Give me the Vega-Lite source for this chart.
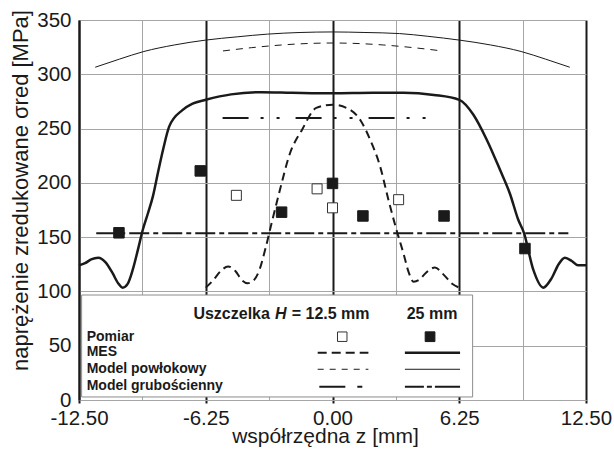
{
  "$schema": "https://vega.github.io/schema/vega-lite/v6.json",
  "width": 507,
  "height": 380,
  "autosize": {"type": "none"},
  "padding": {"left": 79, "top": 20, "right": 28, "bottom": 53},
  "background": "white",
  "config": {
    "font": "Liberation Sans",
    "view": {"stroke": null},
    "axis": {"labelFont": "Liberation Sans", "titleFont": "Liberation Sans", "labelColor": "#1a1a1a", "titleColor": "#1a1a1a", "titleFontWeight": "normal"}
  },
  "datasets": {
    "mes25": [
      {"z": -12.5, "v": 124}, {"z": -12.2, "v": 126}, {"z": -11.9, "v": 129.5}, {"z": -11.55, "v": 131}, {"z": -11.2, "v": 127},
      {"z": -10.85, "v": 117}, {"z": -10.55, "v": 107}, {"z": -10.35, "v": 103.5}, {"z": -10.1, "v": 107}, {"z": -9.85, "v": 120},
      {"z": -9.6, "v": 138}, {"z": -9.35, "v": 157}, {"z": -9.1, "v": 172}, {"z": -8.85, "v": 188}, {"z": -8.6, "v": 210},
      {"z": -8.35, "v": 231}, {"z": -8.05, "v": 252}, {"z": -7.4, "v": 267}, {"z": -6.9, "v": 273}, {"z": -6.25, "v": 276.5},
      {"z": -5.0, "v": 281.5}, {"z": -3.5, "v": 283.5}, {"z": -2.0, "v": 283}, {"z": 0, "v": 282.5}, {"z": 2.0, "v": 283},
      {"z": 3.5, "v": 283}, {"z": 5.0, "v": 281}, {"z": 6.25, "v": 276.5}, {"z": 6.94, "v": 263}, {"z": 7.6, "v": 240},
      {"z": 8.26, "v": 212}, {"z": 8.75, "v": 190}, {"z": 9.16, "v": 166}, {"z": 9.44, "v": 154}, {"z": 9.9, "v": 120},
      {"z": 10.39, "v": 103.5}, {"z": 10.8, "v": 112}, {"z": 11.15, "v": 125}, {"z": 11.46, "v": 131}, {"z": 11.8, "v": 128},
      {"z": 12.1, "v": 124}, {"z": 12.5, "v": 124}
    ],
    "mes125": [
      {"z": -6.25, "v": 103.5}, {"z": -5.9, "v": 110}, {"z": -5.5, "v": 119}, {"z": -5.15, "v": 123}, {"z": -4.8, "v": 119},
      {"z": -4.45, "v": 110}, {"z": -4.2, "v": 107.5}, {"z": -3.9, "v": 110}, {"z": -3.6, "v": 120}, {"z": -3.3, "v": 140},
      {"z": -3.0, "v": 163}, {"z": -2.6, "v": 193}, {"z": -2.1, "v": 227}, {"z": -1.5, "v": 249}, {"z": -0.8, "v": 269},
      {"z": 0, "v": 272}, {"z": 0.8, "v": 268}, {"z": 1.4, "v": 257}, {"z": 1.85, "v": 240}, {"z": 2.35, "v": 215},
      {"z": 2.75, "v": 185}, {"z": 3.15, "v": 157}, {"z": 3.5, "v": 135}, {"z": 3.75, "v": 118}, {"z": 4.0, "v": 109},
      {"z": 4.3, "v": 111}, {"z": 4.6, "v": 117}, {"z": 5.05, "v": 122}, {"z": 5.5, "v": 115}, {"z": 5.9, "v": 107},
      {"z": 6.25, "v": 103.5}
    ],
    "pow25": [
      {"z": -11.7, "v": 306.5}, {"z": -10.5, "v": 314}, {"z": -9.3, "v": 321}, {"z": -7.8, "v": 327}, {"z": -6.25, "v": 331.5},
      {"z": -4.7, "v": 334.5}, {"z": -3.2, "v": 337}, {"z": -1.6, "v": 338.5}, {"z": 0, "v": 339}, {"z": 1.6, "v": 338.5},
      {"z": 3.3, "v": 337.5}, {"z": 4.7, "v": 335}, {"z": 6.25, "v": 331.5}, {"z": 7.8, "v": 327}, {"z": 9.3, "v": 321},
      {"z": 10.5, "v": 314}, {"z": 11.7, "v": 306.5}
    ],
    "pow125": [
      {"z": -5.4, "v": 321.5}, {"z": -4, "v": 324.5}, {"z": -2.5, "v": 327}, {"z": -1, "v": 328.5}, {"z": 0, "v": 328.8},
      {"z": 1, "v": 328.5}, {"z": 2.5, "v": 327}, {"z": 4, "v": 324.5}, {"z": 5.4, "v": 321.5}
    ],
    "grub25": [{"z": -11.65, "v": 153.7}, {"z": 11.63, "v": 153.7}],
    "grub125": [{"z": -5.42, "v": 259.7}, {"z": 4.81, "v": 259.7}],
    "pomiar25": [
      {"z": -10.53, "v": 154}, {"z": -6.52, "v": 211}, {"z": -2.51, "v": 173}, {"z": 0, "v": 199.5},
      {"z": 1.5, "v": 169.5}, {"z": 5.5, "v": 169.5}, {"z": 9.49, "v": 139.5}
    ],
    "pomiar125": [
      {"z": -4.74, "v": 188.5}, {"z": -0.76, "v": 194.5}, {"z": 0, "v": 177}, {"z": 3.26, "v": 184.5}
    ]
  },
  "data": {"values": [{}]},
  "encoding": {
    "x": {
      "type": "quantitative",
      "scale": {"domain": [-12.5, 12.5], "nice": false, "zero": false},
      "axis": {
        "title": "współrzędna z [mm]",
        "titleFontSize": 21,
        "titleX": 246,
        "titleY": 42,
        "titleBaseline": "alphabetic",
        "values": [-12.5, -9.375, -6.25, -3.125, 0, 3.125, 6.25, 9.375, 12.5],
        "labelExpr": "datum.value == -12.5 ? '-12.50' : datum.value == -6.25 ? '-6.25' : datum.value == 0 ? '0.00' : datum.value == 6.25 ? '6.25' : datum.value == 12.5 ? '12.50' : ''",
        "labelFontSize": 20.5,
        "labelPadding": 5,
        "labelFlush": false,
        "labelOverlap": false,
        "grid": true,
        "gridColor": {"condition": {"test": "abs(datum.value % 6.25) < 0.001", "value": "#1a1a1a"}, "value": "#a6a6a6"},
        "gridWidth": {"condition": {"test": "abs(datum.value % 6.25) < 0.001", "value": 2}, "value": 1},
        "ticks": true,
        "tickSize": 3,
        "tickWidth": 2,
        "tickColor": {"condition": {"test": "abs(datum.value % 6.25) < 0.001", "value": "#1a1a1a"}, "value": "transparent"},
        "domainColor": "#a6a6a6",
        "domainWidth": 1
      }
    },
    "y": {
      "type": "quantitative",
      "scale": {"domain": [0, 350], "nice": false},
      "axis": {
        "title": "naprężenie zredukowane σred [MPa]",
        "titleFontSize": 22,
        "titleX": -59,
        "titleY": 170,
        "titleAngle": 270,
        "titleBaseline": "middle",
        "titleAlign": "center",
        "values": [0, 50, 100, 150, 200, 250, 300, 350],
        "labelFontSize": 20.5,
        "labelPadding": 8,
        "ticks": false,
        "tickSize": 0,
        "grid": true,
        "gridColor": "#a6a6a6",
        "gridWidth": 1,
        "domainColor": "#1a1a1a",
        "domainWidth": 2
      }
    }
  },
  "layer": [
    {
      "data": {"name": "pow25"},
      "mark": {"type": "line", "interpolate": "monotone", "color": "#1a1a1a", "strokeWidth": 1},
      "encoding": {"x": {"field": "z", "type": "quantitative"}, "y": {"field": "v", "type": "quantitative"}}
    },
    {
      "data": {"name": "pow125"},
      "mark": {"type": "line", "interpolate": "monotone", "color": "#1a1a1a", "strokeWidth": 1, "strokeDash": [7, 6]},
      "encoding": {"x": {"field": "z", "type": "quantitative"}, "y": {"field": "v", "type": "quantitative"}}
    },
    {
      "data": {"name": "mes25"},
      "mark": {"type": "line", "interpolate": "monotone", "color": "#1a1a1a", "strokeWidth": 2.5},
      "encoding": {"x": {"field": "z", "type": "quantitative"}, "y": {"field": "v", "type": "quantitative"}}
    },
    {
      "data": {"name": "mes125"},
      "mark": {"type": "line", "interpolate": "monotone", "color": "#1a1a1a", "strokeWidth": 2, "strokeDash": [8, 5]},
      "encoding": {"x": {"field": "z", "type": "quantitative"}, "y": {"field": "v", "type": "quantitative"}}
    },
    {
      "data": {"name": "grub25"},
      "mark": {"type": "line", "color": "#1a1a1a", "strokeWidth": 2, "strokeDash": [20, 4, 5, 4]},
      "encoding": {"x": {"field": "z", "type": "quantitative"}, "y": {"field": "v", "type": "quantitative"}}
    },
    {
      "data": {"name": "grub125"},
      "mark": {"type": "line", "color": "#1a1a1a", "strokeWidth": 2, "strokeDash": [26, 12, 3, 13, 3, 16]},
      "encoding": {"x": {"field": "z", "type": "quantitative"}, "y": {"field": "v", "type": "quantitative"}}
    },
    {
      "data": {"name": "pomiar125"},
      "mark": {"type": "point", "shape": "square", "size": 100, "filled": true, "fill": "white", "stroke": "#333333", "strokeWidth": 1, "opacity": 1},
      "encoding": {"x": {"field": "z", "type": "quantitative"}, "y": {"field": "v", "type": "quantitative"}}
    },
    {
      "data": {"name": "pomiar25"},
      "mark": {"type": "point", "shape": "square", "size": 110, "filled": true, "fill": "#1a1a1a", "stroke": "#1a1a1a", "strokeWidth": 1, "opacity": 1},
      "encoding": {"x": {"field": "z", "type": "quantitative"}, "y": {"field": "v", "type": "quantitative"}}
    },
    {
      "mark": {"type": "rect", "fill": "white", "stroke": "#8c8c8c", "strokeWidth": 1},
      "encoding": {
        "x": {"datum": -12.37, "type": "quantitative"}, "x2": {"datum": 6.91},
        "y": {"datum": 2.8, "type": "quantitative"}, "y2": {"datum": 96.7}
      }
    },
    {
      "mark": {"type": "text", "font": "Liberation Sans", "fontSize": 16, "fontWeight": "bold", "align": "left", "baseline": "alphabetic", "color": "#1a1a1a"},
      "encoding": {"x": {"datum": -6.86, "type": "quantitative"}, "y": {"datum": 74.9, "type": "quantitative"}, "text": {"value": "Uszczelka"}}
    },
    {
      "mark": {"type": "text", "font": "Liberation Sans", "fontSize": 16, "fontWeight": "bold", "fontStyle": "italic", "align": "left", "baseline": "alphabetic", "color": "#1a1a1a"},
      "encoding": {"x": {"datum": -2.84, "type": "quantitative"}, "y": {"datum": 74.9, "type": "quantitative"}, "text": {"value": "H"}}
    },
    {
      "mark": {"type": "text", "font": "Liberation Sans", "fontSize": 16, "fontWeight": "bold", "align": "left", "baseline": "alphabetic", "color": "#1a1a1a"},
      "encoding": {"x": {"datum": -2.01, "type": "quantitative"}, "y": {"datum": 74.9, "type": "quantitative"}, "text": {"value": "= 12.5 mm"}}
    },
    {
      "mark": {"type": "text", "font": "Liberation Sans", "fontSize": 16, "fontWeight": "bold", "align": "left", "baseline": "alphabetic", "color": "#1a1a1a"},
      "encoding": {"x": {"datum": 3.66, "type": "quantitative"}, "y": {"datum": 74.9, "type": "quantitative"}, "text": {"value": "25 mm"}}
    },
    {
      "mark": {"type": "text", "font": "Liberation Sans", "fontSize": 14, "fontWeight": "bold", "align": "left", "baseline": "middle", "color": "#1a1a1a"},
      "encoding": {"x": {"datum": -12.12, "type": "quantitative"}, "y": {"datum": 58.3, "type": "quantitative"}, "text": {"value": "Pomiar"}}
    },
    {
      "mark": {"type": "text", "font": "Liberation Sans", "fontSize": 14, "fontWeight": "bold", "align": "left", "baseline": "middle", "color": "#1a1a1a"},
      "encoding": {"x": {"datum": -12.12, "type": "quantitative"}, "y": {"datum": 44.5, "type": "quantitative"}, "text": {"value": "MES"}}
    },
    {
      "mark": {"type": "text", "font": "Liberation Sans", "fontSize": 14, "fontWeight": "bold", "align": "left", "baseline": "middle", "color": "#1a1a1a"},
      "encoding": {"x": {"datum": -12.12, "type": "quantitative"}, "y": {"datum": 28.3, "type": "quantitative"}, "text": {"value": "Model powłokowy"}}
    },
    {
      "mark": {"type": "text", "font": "Liberation Sans", "fontSize": 14, "fontWeight": "bold", "align": "left", "baseline": "middle", "color": "#1a1a1a"},
      "encoding": {"x": {"datum": -12.12, "type": "quantitative"}, "y": {"datum": 12.9, "type": "quantitative"}, "text": {"value": "Model grubościenny"}}
    },
    {
      "mark": {"type": "point", "shape": "square", "size": 90, "filled": true, "fill": "white", "stroke": "#333333", "strokeWidth": 1, "opacity": 1},
      "encoding": {"x": {"datum": 0.48, "type": "quantitative"}, "y": {"datum": 58.3, "type": "quantitative"}}
    },
    {
      "mark": {"type": "point", "shape": "square", "size": 95, "filled": true, "fill": "#1a1a1a", "stroke": "#1a1a1a", "strokeWidth": 1, "opacity": 1},
      "encoding": {"x": {"datum": 4.81, "type": "quantitative"}, "y": {"datum": 58.3, "type": "quantitative"}}
    },
    {
      "mark": {"type": "rule", "color": "#1a1a1a", "strokeWidth": 2, "strokeDash": [9, 5]},
      "encoding": {"x": {"datum": -0.73, "type": "quantitative"}, "x2": {"datum": 1.77}, "y": {"datum": 43.6, "type": "quantitative"}}
    },
    {
      "mark": {"type": "rule", "color": "#1a1a1a", "strokeWidth": 2.5},
      "encoding": {"x": {"datum": 3.57, "type": "quantitative"}, "x2": {"datum": 6.29}, "y": {"datum": 43.6, "type": "quantitative"}}
    },
    {
      "mark": {"type": "rule", "color": "#1a1a1a", "strokeWidth": 1, "strokeDash": [6, 6]},
      "encoding": {"x": {"datum": -0.73, "type": "quantitative"}, "x2": {"datum": 1.77}, "y": {"datum": 28.3, "type": "quantitative"}}
    },
    {
      "mark": {"type": "rule", "color": "#1a1a1a", "strokeWidth": 1},
      "encoding": {"x": {"datum": 3.57, "type": "quantitative"}, "x2": {"datum": 6.29}, "y": {"datum": 28.3, "type": "quantitative"}}
    },
    {
      "mark": {"type": "rule", "color": "#1a1a1a", "strokeWidth": 2, "strokeDash": [26, 12, 5, 50]},
      "encoding": {"x": {"datum": -0.65, "type": "quantitative"}, "x2": {"datum": 1.49}, "y": {"datum": 12.2, "type": "quantitative"}}
    },
    {
      "mark": {"type": "rule", "color": "#1a1a1a", "strokeWidth": 2, "strokeDash": [19, 3, 5, 3, 40]},
      "encoding": {"x": {"datum": 3.57, "type": "quantitative"}, "x2": {"datum": 6.29}, "y": {"datum": 12.2, "type": "quantitative"}}
    }
  ]
}
